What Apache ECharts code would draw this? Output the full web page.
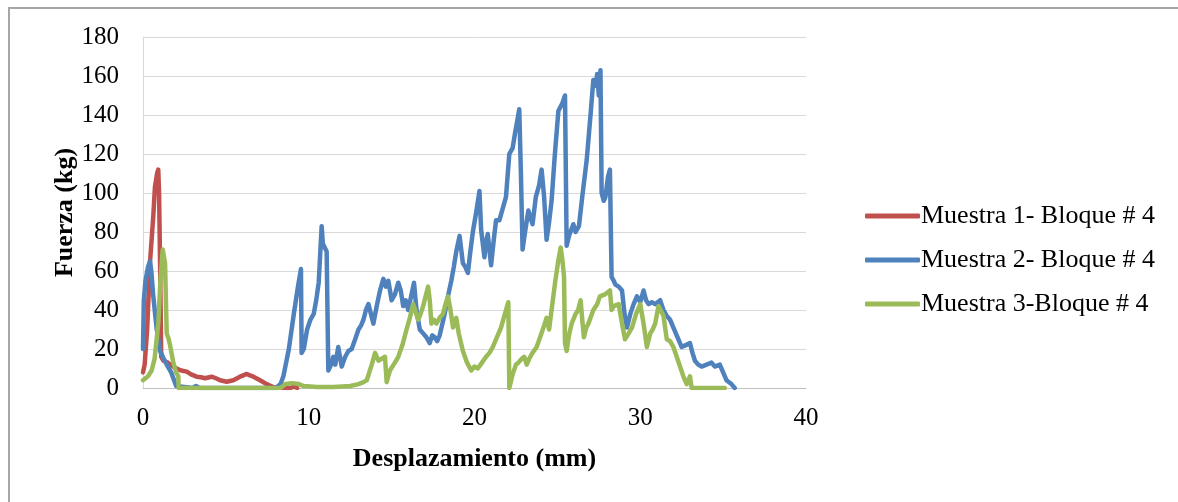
<!DOCTYPE html>
<html>
<head>
<meta charset="utf-8">
<script src="https://cdn.jsdelivr.net/npm/echarts@6/dist/echarts.min.js"></script>
<style>
  html, body { margin: 0; padding: 0; background: #fff; }
  #frame { position: absolute; left: 8px; top: 7px; width: 1170px; height: 495px;
           border-top: 2px solid #a6a6a6; border-left: 2px solid #a6a6a6; box-sizing: border-box; }
  #chart { position: absolute; left: 0; top: 0; width: 1178px; height: 502px; }
</style>
</head>
<body>
<div id="frame"></div>
<div id="chart"></div>
<script>
// Desplazamiento (mm) vs. Fuerza (kg), one [x, y] pair per reading
const serieNombres = ['Muestra 1- Bloque # 4', 'Muestra 2- Bloque # 4', 'Muestra 3-Bloque # 4'];

const muestra1 = [
  [0, 8], [0.1, 12], [0.25, 30], [0.42, 64], [0.62, 88], [0.72, 103], [0.85, 110], [0.92, 112],
  [0.97, 100], [1.03, 64], [1.1, 16], [1.23, 14], [1.5, 13], [1.8, 11], [2.03, 10], [2.3, 9],
  [2.64, 8.4], [2.9, 7], [3.24, 5.8], [3.5, 5.5], [3.74, 5], [4.14, 5.8], [4.4, 5], [4.65, 4],
  [5.05, 3.2], [5.45, 4], [5.85, 5.8], [6.05, 6.5], [6.26, 7.2], [6.45, 6.5], [6.66, 5.8],
  [7.06, 4], [7.46, 2], [7.86, 0.5], [8.4, 0], [8.9, 0], [9.1, 0.8], [9.3, 0]
];

const muestra2 = [
  [0, 20], [0.05, 45], [0.15, 55], [0.3, 62], [0.42, 65], [0.5, 60], [0.62, 47], [0.83, 30],
  [1.03, 19], [1.25, 15], [1.43, 12], [1.7, 8], [1.83, 5], [2.0, 1], [2.1, 0], [3.0, 0],
  [3.2, 1], [3.4, 0], [8.0, 0], [8.3, 2], [8.47, 6], [8.8, 20], [9.1, 38], [9.35, 52],
  [9.53, 61], [9.57, 18], [9.7, 20], [9.9, 30], [10.1, 35], [10.3, 38], [10.45, 45], [10.6, 54],
  [10.78, 83], [10.85, 74], [10.95, 73], [11.08, 70], [11.18, 9], [11.35, 12], [11.48, 16],
  [11.6, 12], [11.78, 21], [11.99, 11], [12.2, 16], [12.39, 19], [12.59, 20], [12.8, 25],
  [13.0, 30], [13.15, 32], [13.3, 35], [13.45, 40], [13.6, 43], [13.75, 38], [13.9, 33],
  [14.1, 42], [14.3, 50], [14.5, 56], [14.65, 52], [14.8, 55], [15.0, 45], [15.2, 48],
  [15.4, 54], [15.55, 50], [15.7, 42], [15.85, 45], [16.0, 40], [16.2, 48], [16.35, 54],
  [16.5, 40], [16.7, 30], [16.9, 28], [17.1, 26], [17.3, 23], [17.45, 27], [17.6, 26],
  [17.75, 24], [17.9, 27], [18.2, 38], [18.4, 47], [18.6, 55], [18.75, 62], [18.9, 70],
  [19.1, 78], [19.3, 64], [19.45, 62], [19.6, 59], [19.75, 70], [19.9, 80], [20.1, 90],
  [20.3, 101], [20.4, 81], [20.6, 67], [20.7, 75], [20.8, 79], [21.0, 63], [21.15, 75],
  [21.3, 86], [21.5, 86], [21.7, 92], [21.9, 98], [22.1, 120], [22.3, 123], [22.45, 131],
  [22.6, 138], [22.7, 143], [22.8, 110], [22.9, 71], [23.05, 80], [23.25, 91], [23.5, 84],
  [23.7, 98], [23.9, 104], [24.05, 112], [24.2, 98], [24.35, 76], [24.5, 85], [24.65, 96],
  [24.85, 120], [25.06, 142], [25.3, 146], [25.46, 150], [25.56, 73], [25.7, 78], [25.96, 84],
  [26.1, 80], [26.3, 83], [26.5, 98], [26.77, 117], [27.0, 140], [27.17, 158], [27.3, 155],
  [27.4, 161], [27.5, 150], [27.6, 163], [27.67, 100], [27.8, 96], [27.9, 98], [28.05, 108],
  [28.17, 112], [28.27, 57], [28.4, 55], [28.5, 53], [28.7, 52], [28.9, 50], [29.05, 38],
  [29.2, 31], [29.4, 38], [29.6, 43], [29.8, 47], [30.0, 44], [30.2, 50], [30.35, 45],
  [30.5, 43], [30.7, 44], [30.9, 43], [31.2, 45], [31.4, 40], [31.6, 37], [31.8, 35],
  [32.0, 31], [32.2, 27], [32.5, 21], [32.75, 22], [33.0, 23], [33.15, 18], [33.3, 14],
  [33.5, 12], [33.7, 11], [34.0, 12], [34.3, 13], [34.5, 11], [34.8, 12], [35.0, 8],
  [35.2, 4], [35.5, 2], [35.7, 0]
];

const muestra3 = [
  [0, 4], [0.3, 6], [0.52, 9], [0.7, 15], [0.92, 33], [1.05, 55], [1.19, 71], [1.33, 64],
  [1.43, 28], [1.55, 25], [1.63, 22], [1.83, 13], [2.0, 8], [2.13, 6], [2.15, 0], [8.3, 0],
  [8.6, 2], [9.0, 2.5], [9.4, 2], [9.7, 1], [10.5, 0.5], [11.5, 0.5], [12.5, 1], [13.0, 2],
  [13.3, 3], [13.5, 4], [13.8, 12], [14.0, 18], [14.2, 14], [14.4, 15], [14.6, 16], [14.7, 3],
  [14.9, 9], [15.2, 13], [15.4, 16], [15.65, 22], [15.9, 30], [16.1, 36], [16.3, 43],
  [16.45, 39], [16.6, 35], [16.75, 38], [16.9, 42], [17.05, 47], [17.2, 52], [17.3, 45],
  [17.4, 33], [17.55, 35], [17.7, 33], [17.9, 36], [18.1, 38], [18.25, 43], [18.4, 47],
  [18.55, 40], [18.7, 31], [18.9, 36], [19.05, 28], [19.3, 19], [19.55, 13], [19.8, 9],
  [20.0, 11], [20.2, 10], [20.45, 13], [20.7, 16], [20.9, 18], [21.1, 21], [21.35, 26],
  [21.6, 31], [21.8, 37], [22.04, 44], [22.1, 0], [22.3, 7], [22.5, 12], [22.65, 13],
  [22.85, 15], [23.0, 16], [23.15, 12], [23.3, 15], [23.5, 18], [23.75, 21], [24.0, 27],
  [24.2, 32], [24.35, 36], [24.5, 30], [24.6, 30], [24.86, 54], [25.05, 65], [25.2, 72],
  [25.3, 66], [25.4, 57], [25.46, 23], [25.56, 19], [25.7, 27], [25.86, 33], [26.1, 38],
  [26.25, 40], [26.4, 45], [26.5, 35], [26.6, 26], [26.75, 31], [26.87, 33], [27.0, 36],
  [27.17, 40], [27.4, 43], [27.57, 47], [27.87, 48], [28.17, 50], [28.27, 40], [28.4, 42],
  [28.7, 43], [28.9, 33], [29.08, 25], [29.3, 28], [29.5, 31], [29.75, 38], [30.0, 43],
  [30.2, 33], [30.4, 21], [30.6, 28], [30.75, 30], [30.9, 33], [31.1, 42], [31.4, 37],
  [31.6, 25], [31.8, 24], [32.0, 21], [32.2, 16], [32.4, 11], [32.6, 6], [32.8, 2],
  [32.9, 1], [33.0, 6], [33.1, 0], [35.1, 0]
];

const colores = ['#c0504d', '#4f81bd', '#9bbb59'];
const datos = [muestra1, muestra2, muestra3];

const serif = "'Liberation Serif', 'Times New Roman', serif";

const chart = echarts.init(document.getElementById('chart'), null, { renderer: 'canvas' });

chart.setOption({
  animation: false,
  backgroundColor: 'transparent',
  grid: { left: 143, right: 372, top: 37, bottom: 114, containLabel: false },
  legend: {
    orient: 'vertical',
    left: 860,
    top: 198,
    itemWidth: 55,
    itemHeight: 5,
    itemGap: 18,
    icon: 'roundRect',
    data: serieNombres,
    textStyle: { fontFamily: serif, fontSize: 26, color: '#000', padding: [0, 0, 0, -4] }
  },
  xAxis: {
    type: 'value',
    min: 0, max: 40, interval: 10,
    name: 'Desplazamiento (mm)',
    nameLocation: 'middle',
    nameGap: 58,
    nameMoveOverlap: false,
    nameTextStyle: { fontFamily: serif, fontSize: 26, fontWeight: 'bold', color: '#000' },
    axisLine: { show: true, lineStyle: { color: '#bfbfbf', width: 1 } },
    axisTick: { show: false },
    splitLine: { show: false },
    axisLabel: { fontFamily: serif, fontSize: 25, color: '#000', margin: 18 }
  },
  yAxis: {
    type: 'value',
    min: 0, max: 180, interval: 20,
    name: 'Fuerza (kg)',
    nameLocation: 'middle',
    nameGap: 65,
    nameMoveOverlap: false,
    nameTextStyle: { fontFamily: serif, fontSize: 26, fontWeight: 'bold', color: '#000' },
    axisLine: { show: true, lineStyle: { color: '#d9d9d9', width: 1 } },
    axisTick: { show: false },
    splitLine: { show: true, lineStyle: { color: '#d9d9d9', width: 1 } },
    axisLabel: { fontFamily: serif, fontSize: 25, color: '#000', margin: 24 }
  },
  series: datos.map((d, i) => ({
    name: serieNombres[i],
    type: 'line',
    data: d,
    showSymbol: false,
    symbol: 'none',
    color: colores[i],
    lineStyle: { width: 4.5, color: colores[i], join: 'round', cap: 'round' },
    itemStyle: { color: colores[i] }
  }))
});
</script>
</body>
</html>
